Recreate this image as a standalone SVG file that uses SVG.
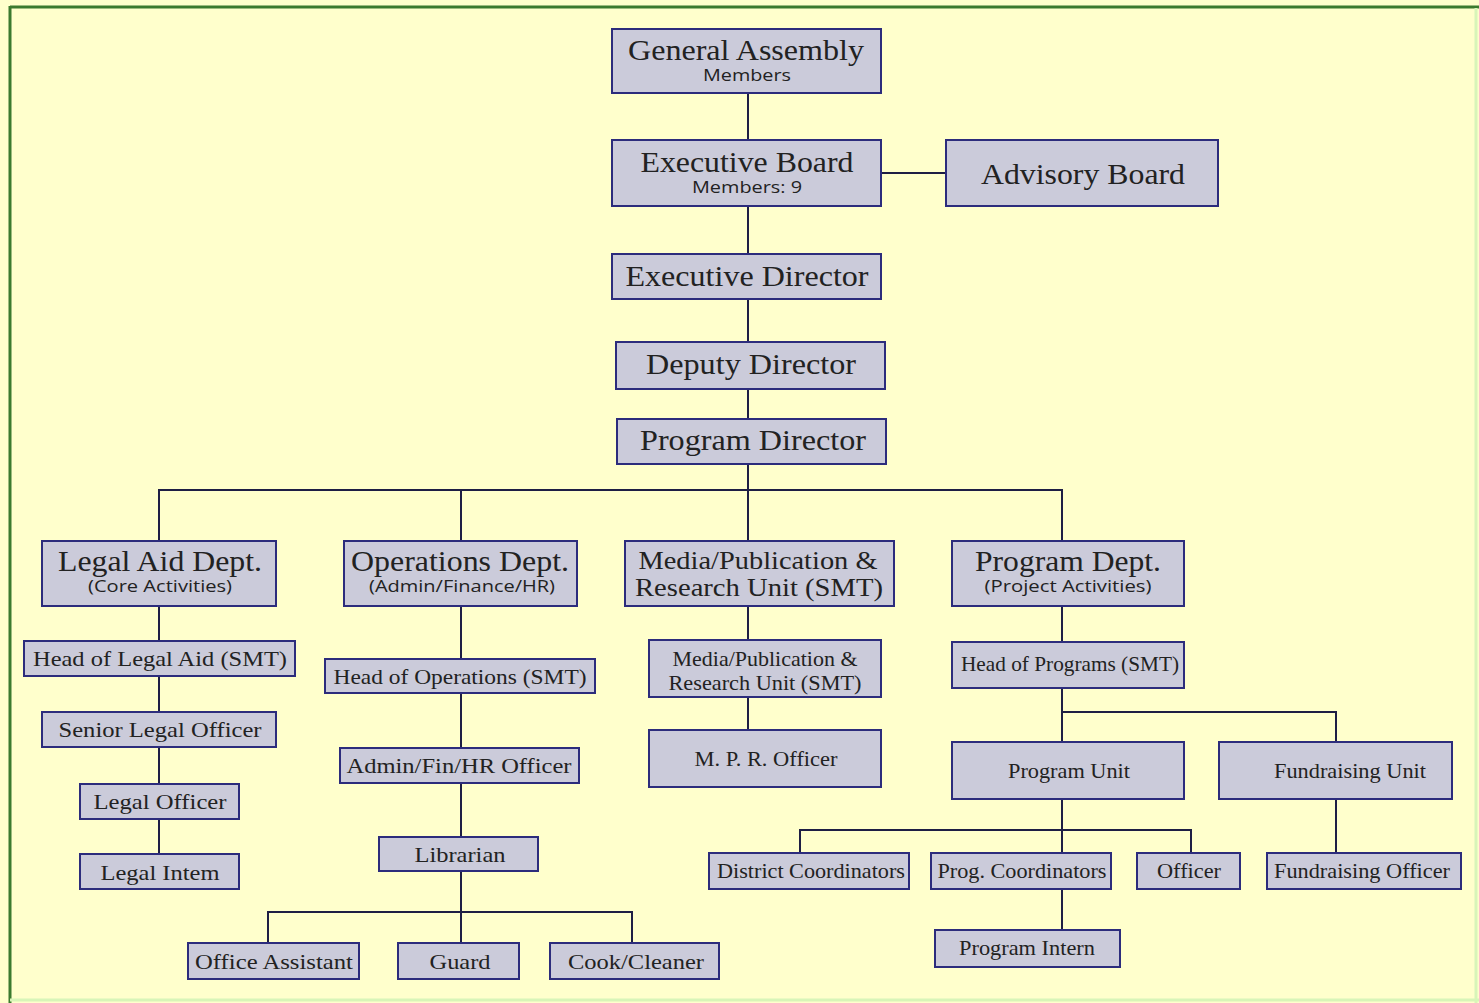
<svg xmlns="http://www.w3.org/2000/svg" width="1479" height="1003" viewBox="0 0 1479 1003">
<style>
.bx{fill:#CBCBDA;stroke:#2C2C7C;stroke-width:2}
.t{font-family:"Liberation Serif","Times New Roman",serif;fill:#222;text-anchor:middle}
.L{font-size:29px}
.M{font-size:26px}
.S{font-size:21px}
.sub{font-family:"Open Sans","Liberation Sans",sans-serif;font-size:16px;fill:#222;text-anchor:middle}
#connectors line{stroke:#1E1E44;stroke-width:2}
</style>
<rect x="0" y="0" width="1479" height="1003" fill="#FFFFCC"/>
<line x1="10" y1="7" x2="1479" y2="7" stroke="#3B7A2E" stroke-width="3"/>
<line x1="10" y1="6" x2="10" y2="1003" stroke="#3B7A2E" stroke-width="3"/>
<line x1="1476" y1="8" x2="1476" y2="1003" stroke="#D8F5B8" stroke-width="3"/>
<line x1="10" y1="1000" x2="1479" y2="1000" stroke="#D8F5B8" stroke-width="3"/>

<g id="connectors">
<line x1="748" y1="93" x2="748" y2="140"/>
<line x1="881" y1="173" x2="946" y2="173"/>
<line x1="748" y1="206" x2="748" y2="254"/>
<line x1="748" y1="299" x2="748" y2="342"/>
<line x1="748" y1="389" x2="748" y2="419"/>
<line x1="748" y1="464" x2="748" y2="541"/>
<line x1="158" y1="490" x2="1063" y2="490"/>
<line x1="159" y1="489" x2="159" y2="541"/>
<line x1="461" y1="489" x2="461" y2="541"/>
<line x1="1062" y1="489" x2="1062" y2="541"/>
<line x1="159" y1="606" x2="159" y2="641"/>
<line x1="159" y1="676" x2="159" y2="712"/>
<line x1="159" y1="747" x2="159" y2="784"/>
<line x1="159" y1="819" x2="159" y2="854"/>
<line x1="461" y1="606" x2="461" y2="659"/>
<line x1="461" y1="693" x2="461" y2="748"/>
<line x1="461" y1="783" x2="461" y2="837"/>
<line x1="461" y1="871" x2="461" y2="943"/>
<line x1="267" y1="912" x2="633" y2="912"/>
<line x1="268" y1="911" x2="268" y2="943"/>
<line x1="632" y1="911" x2="632" y2="943"/>
<line x1="748" y1="606" x2="748" y2="640"/>
<line x1="748" y1="697" x2="748" y2="730"/>
<line x1="1062" y1="606" x2="1062" y2="642"/>
<line x1="1062" y1="688" x2="1062" y2="742"/>
<line x1="1061" y1="712" x2="1337" y2="712"/>
<line x1="1336" y1="711" x2="1336" y2="742"/>
<line x1="1062" y1="799" x2="1062" y2="853"/>
<line x1="799" y1="830" x2="1192" y2="830"/>
<line x1="800" y1="829" x2="800" y2="853"/>
<line x1="1191" y1="829" x2="1191" y2="853"/>
<line x1="1336" y1="799" x2="1336" y2="853"/>
<line x1="1062" y1="889" x2="1062" y2="930"/>
</g>

<g id="general-assembly"><rect class="bx" x="612" y="29" width="269" height="64"/>
<text class="t L" x="746" y="60" textLength="236" lengthAdjust="spacingAndGlyphs">General Assembly</text>
<text class="sub" x="747" y="81" textLength="88" lengthAdjust="spacingAndGlyphs">Members</text></g>

<g id="executive-board"><rect class="bx" x="612" y="140" width="269" height="66"/>
<text class="t L" x="747" y="172" textLength="213" lengthAdjust="spacingAndGlyphs">Executive Board</text>
<text class="sub" x="747" y="193" textLength="110" lengthAdjust="spacingAndGlyphs">Members: 9</text></g>

<g id="advisory-board"><rect class="bx" x="946" y="140" width="272" height="66"/>
<text class="t L" x="1083" y="184" textLength="204" lengthAdjust="spacingAndGlyphs">Advisory Board</text></g>

<g id="executive-director"><rect class="bx" x="612" y="254" width="269" height="45"/>
<text class="t L" x="747" y="286" textLength="243" lengthAdjust="spacingAndGlyphs">Executive Director</text></g>

<g id="deputy-director"><rect class="bx" x="616" y="342" width="269" height="47"/>
<text class="t L" x="751" y="374" textLength="210" lengthAdjust="spacingAndGlyphs">Deputy Director</text></g>

<g id="program-director"><rect class="bx" x="617" y="419" width="269" height="45"/>
<text class="t L" x="753" y="450" textLength="226" lengthAdjust="spacingAndGlyphs">Program Director</text></g>

<g id="legal-aid-dept"><rect class="bx" x="42" y="541" width="234" height="65"/>
<text class="t L" x="160" y="571" textLength="204" lengthAdjust="spacingAndGlyphs">Legal Aid Dept.</text>
<text class="sub" x="160" y="592" textLength="144" lengthAdjust="spacingAndGlyphs">(Core Activities)</text></g>

<g id="operations-dept"><rect class="bx" x="344" y="541" width="233" height="65"/>
<text class="t L" x="460" y="571" textLength="218" lengthAdjust="spacingAndGlyphs">Operations Dept.</text>
<text class="sub" x="462" y="592" textLength="186" lengthAdjust="spacingAndGlyphs">(Admin/Finance/HR)</text></g>

<g id="media-unit"><rect class="bx" x="625" y="541" width="269" height="65"/>
<text class="t M" x="758" y="569" textLength="239" lengthAdjust="spacingAndGlyphs">Media/Publication &amp;</text>
<text class="t M" x="759" y="596" textLength="248" lengthAdjust="spacingAndGlyphs">Research Unit (SMT)</text></g>

<g id="program-dept"><rect class="bx" x="952" y="541" width="232" height="65"/>
<text class="t L" x="1068" y="571" textLength="186" lengthAdjust="spacingAndGlyphs">Program Dept.</text>
<text class="sub" x="1068" y="592" textLength="167" lengthAdjust="spacingAndGlyphs">(Project Activities)</text></g>

<g id="head-legal-aid"><rect class="bx" x="24" y="641" width="271" height="35"/>
<text class="t S" x="160" y="666" textLength="254" lengthAdjust="spacingAndGlyphs">Head of Legal Aid (SMT)</text></g>

<g id="senior-legal-officer"><rect class="bx" x="42" y="712" width="234" height="35"/>
<text class="t S" x="160" y="737" textLength="203" lengthAdjust="spacingAndGlyphs">Senior Legal Officer</text></g>

<g id="legal-officer"><rect class="bx" x="80" y="784" width="159" height="35"/>
<text class="t S" x="160" y="809" textLength="133" lengthAdjust="spacingAndGlyphs">Legal Officer</text></g>

<g id="legal-intern"><rect class="bx" x="80" y="854" width="159" height="35"/>
<text class="t S" x="160" y="880" textLength="119" lengthAdjust="spacingAndGlyphs">Legal Intem</text></g>

<g id="head-operations"><rect class="bx" x="325" y="659" width="270" height="34"/>
<text class="t S" x="460" y="684" textLength="253" lengthAdjust="spacingAndGlyphs">Head of Operations (SMT)</text></g>

<g id="admin-officer"><rect class="bx" x="340" y="748" width="239" height="35"/>
<text class="t S" x="459" y="773" textLength="225" lengthAdjust="spacingAndGlyphs">Admin/Fin/HR Officer</text></g>

<g id="librarian"><rect class="bx" x="379" y="837" width="159" height="34"/>
<text class="t S" x="460" y="862" textLength="91" lengthAdjust="spacingAndGlyphs">Librarian</text></g>

<g id="office-assistant"><rect class="bx" x="188" y="943" width="171" height="36"/>
<text class="t S" x="274" y="969" textLength="158" lengthAdjust="spacingAndGlyphs">Office Assistant</text></g>

<g id="guard"><rect class="bx" x="398" y="943" width="121" height="36"/>
<text class="t S" x="460" y="969" textLength="61" lengthAdjust="spacingAndGlyphs">Guard</text></g>

<g id="cook-cleaner"><rect class="bx" x="550" y="943" width="169" height="36"/>
<text class="t S" x="636" y="969" textLength="136" lengthAdjust="spacingAndGlyphs">Cook/Cleaner</text></g>

<g id="media-unit-smt"><rect class="bx" x="649" y="640" width="232" height="57"/>
<text class="t S" x="765" y="666" textLength="185" lengthAdjust="spacingAndGlyphs">Media/Publication &amp;</text>
<text class="t S" x="765" y="690" textLength="193" lengthAdjust="spacingAndGlyphs">Research Unit (SMT)</text></g>

<g id="mpr-officer"><rect class="bx" x="649" y="730" width="232" height="57"/>
<text class="t S" x="766" y="766" textLength="143" lengthAdjust="spacingAndGlyphs">M. P. R. Officer</text></g>

<g id="head-programs"><rect class="bx" x="952" y="642" width="232" height="46"/>
<text class="t S" x="1070" y="671" textLength="218" lengthAdjust="spacingAndGlyphs">Head of Programs (SMT)</text></g>

<g id="program-unit"><rect class="bx" x="952" y="742" width="232" height="57"/>
<text class="t S" x="1069" y="778" textLength="122" lengthAdjust="spacingAndGlyphs">Program Unit</text></g>

<g id="fundraising-unit"><rect class="bx" x="1219" y="742" width="233" height="57"/>
<text class="t S" x="1350" y="778" textLength="152" lengthAdjust="spacingAndGlyphs">Fundraising Unit</text></g>

<g id="district-coordinators"><rect class="bx" x="709" y="853" width="200" height="36"/>
<text class="t S" x="811" y="878" textLength="188" lengthAdjust="spacingAndGlyphs">District Coordinators</text></g>

<g id="prog-coordinators"><rect class="bx" x="931" y="853" width="180" height="36"/>
<text class="t S" x="1022" y="878" textLength="169" lengthAdjust="spacingAndGlyphs">Prog. Coordinators</text></g>

<g id="officer"><rect class="bx" x="1137" y="853" width="103" height="36"/>
<text class="t S" x="1189" y="878" textLength="64" lengthAdjust="spacingAndGlyphs">Officer</text></g>

<g id="fundraising-officer"><rect class="bx" x="1267" y="853" width="194" height="36"/>
<text class="t S" x="1362" y="878" textLength="176" lengthAdjust="spacingAndGlyphs">Fundraising Officer</text></g>

<g id="program-intern"><rect class="bx" x="935" y="930" width="185" height="37"/>
<text class="t S" x="1027" y="955" textLength="136" lengthAdjust="spacingAndGlyphs">Program Intern</text></g>
</svg>
